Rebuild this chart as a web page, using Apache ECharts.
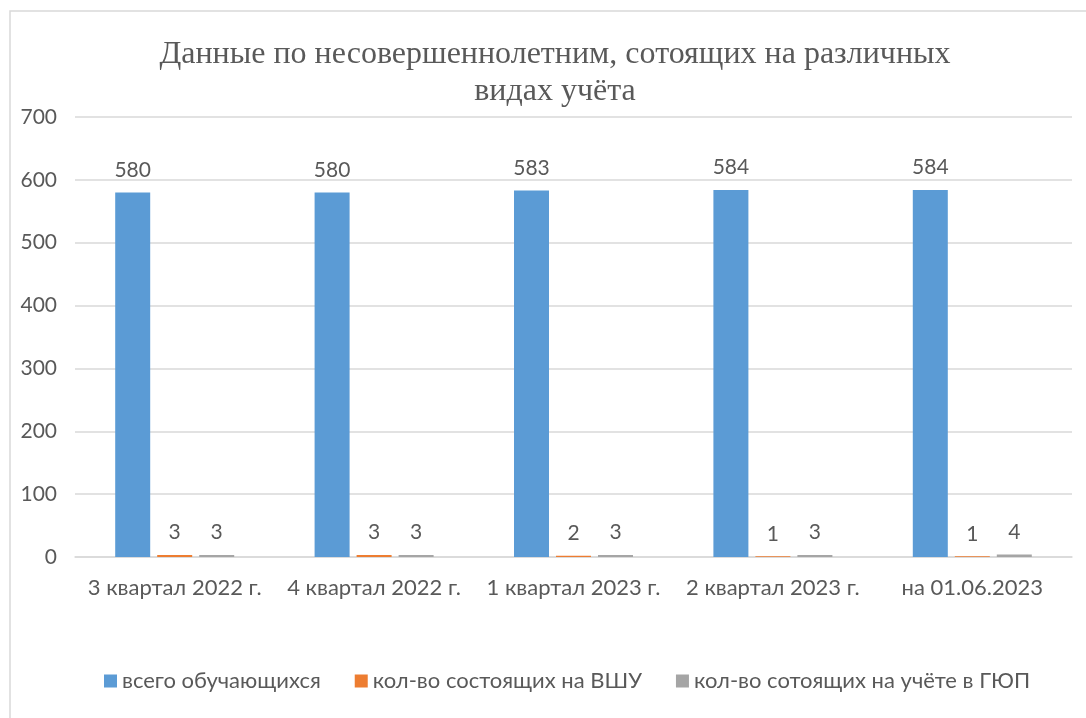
<!DOCTYPE html>
<html>
<head>
<meta charset="utf-8">
<script src="https://cdn.jsdelivr.net/npm/echarts@6/dist/echarts.min.js"></script>
<style>
  html, body { margin: 0; padding: 0; background: #fff; }
  #chart { width: 1086px; height: 718px; }
</style>
</head>
<body>
<div id="chart"></div>
<script>
// данные с картинки
const categories = ['3 квартал 2022 г.', '4 квартал 2022 г.', '1 квартал 2023 г.', '2 квартал 2023 г.', 'на 01.06.2023'];
const seriesNames = ['всего обучающихся', 'кол-во состоящих на ВШУ', 'кол-во сотоящих на учёте в ГЮП'];
const totalStudents = [580, 580, 583, 584, 584];
const onVSHU = [3, 3, 2, 1, 1];
const onGYUP = [3, 3, 3, 3, 4];
const colors = ['#5B9BD5', '#ED7D31', '#A5A5A5'];

const textColor = '#595959';
const font = 'Lato, "Open Sans", sans-serif';

const chart = echarts.init(document.getElementById('chart'));

const makeSeries = (name, data, color) => ({
  name: name,
  type: 'bar',
  data: data,
  barWidth: 35,
  barGap: '20%',
  itemStyle: { color: color },
  label: {
    show: true,
    position: 'top',
    distance: 12,
    color: textColor,
    fontSize: 21,
    fontFamily: font
  }
});

const option = {
  animation: false,
  title: {
    text: 'Данные по несовершеннолетним, сотоящих на различных\nвидах учёта',
    left: 550,
    top: 31,
    textAlign: 'center',
    textStyle: {
      color: textColor,
      fontFamily: '"Liberation Serif", serif',
      fontWeight: 'normal',
      fontSize: 32,
      lineHeight: 37
    }
  },
  grid: {
    left: 75,
    right: 14,
    top: 117,
    bottom: 161
  },
  legend: {
    bottom: 21,
    left: 99,
    itemWidth: 13,
    itemHeight: 13,
    itemGap: 34,
    icon: 'rect',
    textStyle: { color: textColor, fontSize: 22, fontFamily: font }
  },
  xAxis: {
    type: 'category',
    data: categories,
    axisLine: { lineStyle: { color: '#d9d9d9', width: 1.5 } },
    axisTick: { show: false },
    axisLabel: { color: textColor, fontSize: 22, fontFamily: font, margin: 20, interval: 0 }
  },
  yAxis: {
    type: 'value',
    min: 0,
    max: 700,
    interval: 100,
    axisLine: { show: false },
    axisTick: { show: false },
    axisLabel: { color: textColor, fontSize: 21, fontFamily: font, margin: 18 },
    splitLine: { lineStyle: { color: '#d9d9d9', width: 1.5 } }
  },
  graphic: [{
    type: 'rect',
    shape: { x: 10, y: 11, width: 1200, height: 800 },
    style: { fill: 'none', stroke: '#d9d9d9', lineWidth: 1.5 },
    silent: true
  }],
  series: [
    makeSeries(seriesNames[0], totalStudents, colors[0]),
    makeSeries(seriesNames[1], onVSHU, colors[1]),
    makeSeries(seriesNames[2], onGYUP, colors[2])
  ]
};

chart.setOption(option);
</script>
</body>
</html>
